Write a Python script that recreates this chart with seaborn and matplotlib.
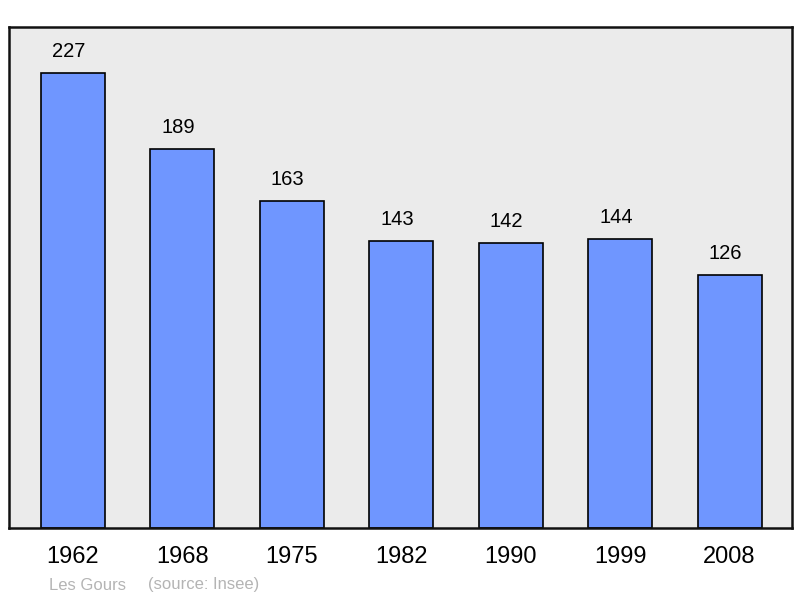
import matplotlib
matplotlib.use("Agg")
import matplotlib.pyplot as plt
import seaborn as sns
import pandas as pd

years = ["1962", "1968", "1975", "1982", "1990", "1999", "2008"]
population = [227, 189, 163, 143, 142, 144, 126]

sns.set_style("white")
plt.rcParams["font.family"] = ["Liberation Sans", "DejaVu Sans"]

df = pd.DataFrame({"year": years, "pop": population})

fig = plt.figure(figsize=(8, 5.98), dpi=100)
ax = fig.add_axes([9 / 800, 70 / 598, 783 / 800, 501 / 598])
ax.set_facecolor("#ebebeb")

sns.barplot(data=df, x="year", y="pop", color="#6f96ff", saturation=1,
            width=0.585, edgecolor="black", linewidth=1.2, ax=ax)

# value labels above bars
for i, v in enumerate(population):
    ax.annotate(str(v), (i, v), xytext=(-3, 9), textcoords="offset points",
                ha="center", va="bottom", fontsize=14.5, color="black")

ax.set_ylim(0, 250)
ax.set_xlim(-0.585, 6.57)
ax.set_yticks([])
ax.set_xlabel("")
ax.set_ylabel("")
ax.tick_params(axis="x", length=0, pad=13, labelsize=17, labelcolor="black")
for s in ax.spines.values():
    s.set_linewidth(1.8)
    s.set_color("#111111")

fig.text(49 / 800, 1 - 585 / 598, "Les Gours", color="#b4b4b4", fontsize=12, va="center")
fig.text(148 / 800, 1 - 585 / 598, "(source: Insee)", color="#b4b4b4", fontsize=12, va="center")

fig.savefig("out.png", dpi=100)
